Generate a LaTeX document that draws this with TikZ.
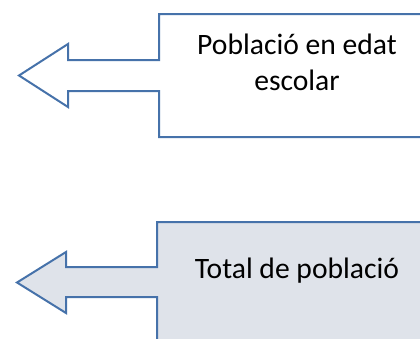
\documentclass[tikz,border=0pt]{standalone}
\usepackage{fontspec}
\setmainfont{Carlito}
\definecolor{calloutline}{HTML}{4672AA}
\definecolor{calloutfill}{HTML}{DFE3EA}
\tikzset{callout/.style={draw=calloutline,line width=2pt,line join=miter},
  label text/.style={font=\fontsize{29.6}{36}\selectfont,align=center,anchor=base}}

\begin{document}
\begin{tikzpicture}[x=1pt,y=-1pt]
\useasboundingbox (0,0) rectangle (420,338);
\clip (0,0) rectangle (420,338);
% callout with arrow to the left: pupils
\draw[callout,fill=white] (159,14) -- (440,14) -- (440,137) -- (159,137) -- (159,91)
  -- (68,91) -- (68,107) -- (19,75.5) -- (68,44) -- (68,60) -- (159,60) -- cycle;
\node[label text] (escolar) at (297,90) {Població en edat\\escolar};
% callout: all population
\draw[callout,fill=calloutfill] (157,222) -- (440,222) -- (440,360) -- (157,360) -- (157,297)
  -- (66,297) -- (66,313) -- (17,282.5) -- (66,252) -- (66,267) -- (157,267) -- cycle;
\node[label text] (total) at (297,278) {Total de població};
\end{tikzpicture}
\end{document}
